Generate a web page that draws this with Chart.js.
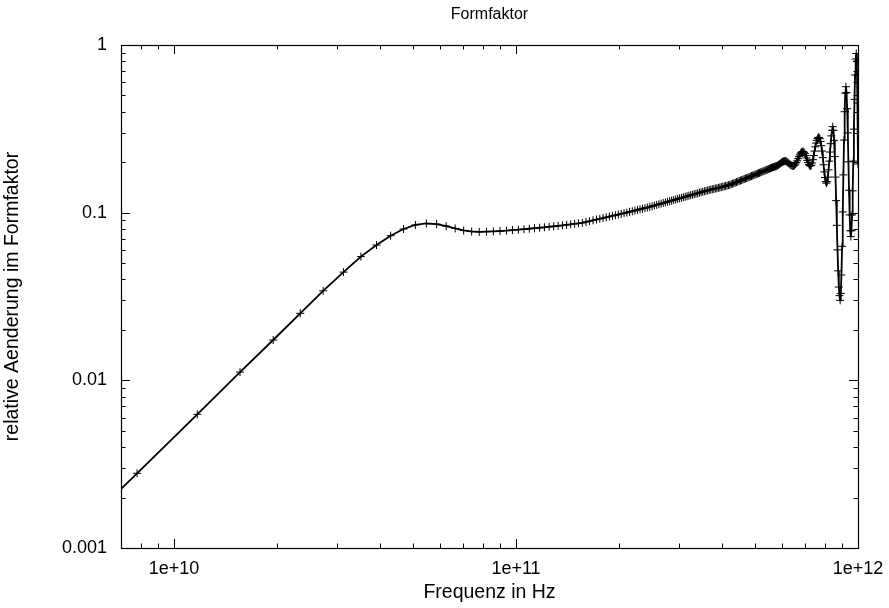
<!DOCTYPE html>
<html>
<head>
<meta charset="utf-8">
<script src="https://cdn.jsdelivr.net/npm/chart.js@4/dist/chart.umd.min.js"></script>
<style>
  html, body { margin: 0; padding: 0; background: #fff; }
  #wrap { width: 889px; height: 608px; }
</style>
</head>
<body>
<div id="wrap"><canvas id="c" width="889" height="608"></canvas></div>
<script>
// Frequency grid in GHz (one row = 10 samples)
const freqGHz = [
  3.9, 7.8, 11.7, 15.6, 19.5, 23.4, 27.3, 31.3, 35.2, 39.1,
  43.0, 46.9, 50.8, 54.7, 58.6, 62.5, 66.4, 70.3, 74.2, 78.1,
  82.0, 85.9, 89.8, 93.8, 97.7, 101.6, 105.5, 109.4, 113.3, 117.2,
  121.1, 125.0, 128.9, 132.8, 136.7, 140.6, 144.5, 148.4, 152.3, 156.3,
  160.2, 164.1, 168.0, 171.9, 175.8, 179.7, 183.6, 187.5, 191.4, 195.3,
  199.2, 203.1, 207.0, 210.9, 214.8, 218.8, 222.7, 226.6, 230.5, 234.4,
  238.3, 242.2, 246.1, 250.0, 253.9, 257.8, 261.7, 265.6, 269.5, 273.4,
  277.3, 281.3, 285.2, 289.1, 293.0, 296.9, 300.8, 304.7, 308.6, 312.5,
  316.4, 320.3, 324.2, 328.1, 332.0, 335.9, 339.8, 343.8, 347.7, 351.6,
  355.5, 359.4, 363.3, 367.2, 371.1, 375.0, 378.9, 382.8, 386.7, 390.6,
  394.5, 398.4, 402.3, 406.3, 410.2, 414.1, 418.0, 421.9, 425.8, 429.7,
  433.6, 437.5, 441.4, 445.3, 449.2, 453.1, 457.0, 460.9, 464.8, 468.8,
  472.7, 476.6, 480.5, 484.4, 488.3, 492.2, 496.1, 500.0, 503.9, 507.8,
  511.7, 515.6, 519.5, 523.4, 527.3, 531.3, 535.2, 539.1, 543.0, 546.9,
  550.8, 554.7, 558.6, 562.5, 566.4, 570.3, 574.2, 578.1, 582.0, 585.9,
  589.8, 593.8, 597.7, 601.6, 605.5, 609.4, 613.3, 617.2, 621.1, 625.0,
  628.9, 632.8, 636.7, 640.6, 644.5, 648.4, 652.3, 656.3, 660.2, 664.1,
  668.0, 671.9, 675.8, 679.7, 683.6, 687.5, 691.4, 695.3, 699.2, 703.1,
  707.0, 710.9, 714.8, 718.8, 722.7, 726.6, 730.5, 734.4, 738.3, 742.2,
  746.1, 750.0, 753.9, 757.8, 761.7, 765.6, 769.5, 773.4, 777.3, 781.3,
  785.2, 789.1, 793.0, 796.9, 800.8, 804.7, 808.6, 812.5, 816.4, 820.3,
  824.2, 828.1, 832.0, 835.9, 839.8, 843.8, 847.7, 851.6, 855.5, 859.4,
  863.3, 867.2, 871.1, 875.0, 878.9, 882.8, 886.7, 890.6, 894.5, 898.4,
  902.3, 906.3, 910.2, 914.1, 918.0, 921.9, 925.8, 929.7, 933.6, 937.5,
  941.4, 945.3, 949.2, 953.1, 957.0, 960.9, 964.8, 968.8, 972.7, 976.6,
  980.5, 984.4, 988.3, 992.2, 996.1, 1000.0
];

// Relative change of the form factor at each frequency
const formFactor = [
  0.0007, 0.00279, 0.00627, 0.0112, 0.0174, 0.0251, 0.0342, 0.0442, 0.0547, 0.0641,
  0.0729, 0.0799, 0.0845, 0.0862, 0.0855, 0.0832, 0.0805, 0.0783, 0.0772, 0.0768,
  0.0770, 0.0773, 0.0777, 0.0782, 0.0787, 0.0792, 0.0797, 0.0802, 0.0808, 0.0813,
  0.0818, 0.0824, 0.0829, 0.0835, 0.0840, 0.0846, 0.0852, 0.0858, 0.0864, 0.0870,
  0.0880, 0.0890, 0.0900, 0.0910, 0.0919, 0.0929, 0.0938, 0.0948, 0.0957, 0.0966,
  0.0975, 0.0984, 0.0993, 0.1002, 0.1011, 0.1020, 0.1029, 0.1038, 0.1047, 0.1056,
  0.1065, 0.1074, 0.1083, 0.1093, 0.1103, 0.1113, 0.1122, 0.1132, 0.1142, 0.1151,
  0.1161, 0.1170, 0.1180, 0.1189, 0.1198, 0.1208, 0.1217, 0.1226, 0.1235, 0.1244,
  0.1253, 0.1262, 0.1271, 0.1280, 0.1289, 0.1298, 0.1306, 0.1315, 0.1324, 0.1332,
  0.1341, 0.1349, 0.1357, 0.1365, 0.1372, 0.1380, 0.1386, 0.1392, 0.1399, 0.1406,
  0.1413, 0.1420, 0.1427, 0.1434, 0.1442, 0.1450, 0.1458, 0.1466, 0.1477, 0.1488,
  0.1499, 0.1510, 0.1521, 0.1532, 0.1543, 0.1554, 0.1565, 0.1576, 0.1587, 0.1598,
  0.1609, 0.1620, 0.1631, 0.1642, 0.1653, 0.1664, 0.1675, 0.1686, 0.1697, 0.1708,
  0.1719, 0.1730, 0.1741, 0.1752, 0.1763, 0.1774, 0.1785, 0.1796, 0.1807, 0.1818,
  0.1829, 0.184, 0.185, 0.186, 0.187, 0.188, 0.189, 0.190, 0.191, 0.193,
  0.195, 0.197, 0.199, 0.201, 0.202, 0.203, 0.203, 0.202, 0.200, 0.198,
  0.196, 0.194, 0.192, 0.191, 0.190, 0.190, 0.192, 0.195, 0.199, 0.204,
  0.210, 0.216, 0.221, 0.226, 0.229, 0.231, 0.231, 0.229, 0.225, 0.219,
  0.212, 0.205, 0.199, 0.194, 0.191, 0.190, 0.192, 0.198, 0.207, 0.219,
  0.233, 0.247, 0.260, 0.270, 0.277, 0.281, 0.281, 0.276, 0.266, 0.251,
  0.233, 0.213, 0.193, 0.175, 0.162, 0.153, 0.150, 0.153, 0.163, 0.180,
  0.203, 0.230, 0.258, 0.287, 0.310, 0.326, 0.310, 0.270, 0.216, 0.163,
  0.118, 0.084, 0.060, 0.045, 0.036, 0.032, 0.030, 0.033, 0.0425, 0.063,
  0.101, 0.168, 0.271, 0.400, 0.516, 0.564, 0.521, 0.417, 0.299, 0.201,
  0.136, 0.097, 0.078, 0.072, 0.078, 0.097, 0.135, 0.203, 0.315, 0.474,
  0.662, 0.825, 0.89, 0.80, 0.45, 0.195
];

const xTickValues = [1e10, 1e11, 1e12];
const xTickLabels = ['1e+10', '1e+11', '1e+12'];
const yTickValues = [0.001, 0.01, 0.1, 1];
const yTickLabels = ['0.001', '0.01', '0.1', '1'];

const titleText = 'Formfaktor';
const xTitleText = 'Frequenz in Hz';
const yTitleText = 'relative Aenderung im Formfaktor';

const FONT = '"Liberation Sans", Arial, Helvetica, sans-serif';
Chart.defaults.font.family = FONT;
Chart.defaults.font.size = 16;
Chart.defaults.color = '#000';

// Border box with inward major/minor ticks on all four sides
const frameTicks = {
  id: 'frameTicks',
  afterDatasetsDraw(chart) {
    const { ctx, chartArea: a, scales: { x, y } } = chart;
    ctx.save();
    ctx.strokeStyle = '#000';
    ctx.lineWidth = 1;
    ctx.beginPath();
    const decadesX = [1e9, 1e10, 1e11, 1e12];
    for (const d of decadesX) {
      for (let m = 1; m <= 9; m++) {
        const v = d * m;
        if (v < x.min * 0.9999 || v > x.max * 1.0001) continue;
        const px = Math.round(x.getPixelForValue(v)) + 0.5;
        const len = m === 1 ? 9 : 4.5;
        ctx.moveTo(px, a.bottom); ctx.lineTo(px, a.bottom - len);
        ctx.moveTo(px, a.top); ctx.lineTo(px, a.top + len);
      }
    }
    const decadesY = [0.001, 0.01, 0.1, 1];
    for (const d of decadesY) {
      for (let m = 1; m <= 9; m++) {
        const v = d * m;
        if (v < y.min * 0.9999 || v > y.max * 1.0001) continue;
        const py = Math.round(y.getPixelForValue(v)) + 0.5;
        const len = m === 1 ? 9 : 4.5;
        ctx.moveTo(a.left, py); ctx.lineTo(a.left + len, py);
        ctx.moveTo(a.right, py); ctx.lineTo(a.right - len, py);
      }
    }
    ctx.stroke();
    ctx.lineWidth = 1.2;
    ctx.strokeRect(Math.round(a.left) + 0.5, Math.round(a.top) + 0.5,
                   Math.round(a.right - a.left), Math.round(a.bottom - a.top));
    ctx.restore();
  }
};

new Chart(document.getElementById('c'), {
  type: 'line',
  data: {
    datasets: [{
      data: freqGHz.map((f, i) => ({ x: f * 1e9, y: formFactor[i] })),
      borderColor: '#000',
      borderWidth: 1.8,
      tension: 0,
      pointStyle: 'cross',
      pointRadius: 4,
      pointBorderWidth: 1,
      pointBorderColor: '#000',
      pointBackgroundColor: '#000'
    }]
  },
  options: {
    responsive: false,
    animation: false,
    devicePixelRatio: 1,
    layout: { padding: { left: 0, right: 31, top: 0, bottom: 0 } },
    plugins: {
      legend: { display: false },
      tooltip: { enabled: false },
      title: {
        display: true,
        text: titleText,
        fullSize: false,
        color: '#000',
        font: { size: 16, weight: 'normal' },
        padding: { top: 5, bottom: 20.8 }
      }
    },
    scales: {
      x: {
        type: 'logarithmic',
        min: 7e9,
        max: 1e12,
        grid: { display: false, drawTicks: false },
        border: { display: false },
        afterBuildTicks: s => { s.ticks = xTickValues.map(v => ({ value: v })); },
        afterFit: s => { s.height = 60; s.paddingLeft = 0; s.paddingRight = 0; },
        ticks: {
          autoSkip: false, maxRotation: 0, padding: 10, color: '#000',
          font: { size: 18 },
          callback: (v, i) => xTickLabels[i]
        },
        title: {
          display: true, text: xTitleText, color: '#000',
          font: { size: 19.5 }, padding: { top: 0, bottom: 3.3 }
        }
      },
      y: {
        type: 'logarithmic',
        min: 0.001,
        max: 1,
        grid: { display: false, drawTicks: false },
        border: { display: false },
        afterBuildTicks: s => { s.ticks = yTickValues.map(v => ({ value: v })); },
        afterFit: s => { s.width = 121; s.paddingTop = 0; s.paddingBottom = 0; },
        ticks: {
          autoSkip: false, padding: 14, color: '#000',
          font: { size: 18 },
          callback: (v, i) => yTickLabels[i]
        },
        title: {
          display: true, text: yTitleText, color: '#000',
          font: { size: 19.5 }, padding: { top: 1.3, bottom: 0 }
        }
      }
    }
  },
  plugins: [frameTicks]
});
</script>
</body>
</html>
